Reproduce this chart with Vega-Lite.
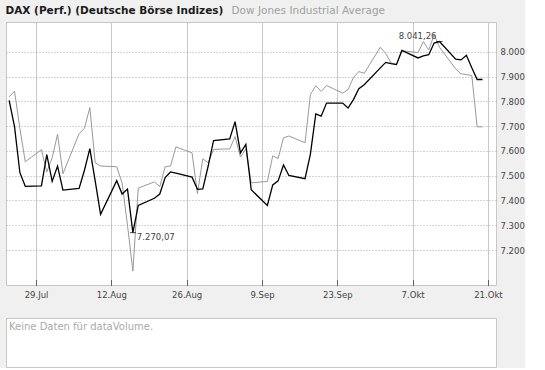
{
  "$schema": "https://vega.github.io/schema/vega-lite/v6.json",
  "background": "#f0f0f0",
  "padding": {"left": 5, "top": 6, "right": 0, "bottom": 0},
  "config": {
    "font": "DejaVu Sans",
    "view": {"stroke": "#c8c8c8", "fill": "#ffffff"},
    "axis": {"labelOverlap": false}
  },
  "spacing": 18,
  "vconcat": [
    {
      "width": 490,
      "height": 263,
      "data": {
        "values": [
          {"d": "2007-07-24", "dax": 7804, "dow": 7818},
          {"d": "2007-07-25", "dax": 7698, "dow": 7841},
          {"d": "2007-07-26", "dax": 7512, "dow": 7690},
          {"d": "2007-07-27", "dax": 7457, "dow": 7556},
          {"d": "2007-07-30", "dax": 7459, "dow": 7605},
          {"d": "2007-07-31", "dax": 7585, "dow": 7515},
          {"d": "2007-08-01", "dax": 7477, "dow": 7572},
          {"d": "2007-08-02", "dax": 7539, "dow": 7667},
          {"d": "2007-08-03", "dax": 7442, "dow": 7508},
          {"d": "2007-08-06", "dax": 7449, "dow": 7669},
          {"d": "2007-08-07", "dax": 7522, "dow": 7691},
          {"d": "2007-08-08", "dax": 7609, "dow": 7775},
          {"d": "2007-08-09", "dax": 7478, "dow": 7552},
          {"d": "2007-08-10", "dax": 7344, "dow": 7539},
          {"d": "2007-08-13", "dax": 7480, "dow": 7536},
          {"d": "2007-08-14", "dax": 7426, "dow": 7470},
          {"d": "2007-08-15", "dax": 7446, "dow": 7300},
          {"d": "2007-08-16", "dax": 7270.07, "dow": 7115},
          {"d": "2007-08-17", "dax": 7380, "dow": 7450},
          {"d": "2007-08-20", "dax": 7409, "dow": 7475},
          {"d": "2007-08-21", "dax": 7426, "dow": 7456},
          {"d": "2007-08-22", "dax": 7492, "dow": 7536},
          {"d": "2007-08-23", "dax": 7515, "dow": 7539},
          {"d": "2007-08-24", "dax": 7510, "dow": 7616},
          {"d": "2007-08-27", "dax": 7494, "dow": 7592},
          {"d": "2007-08-28", "dax": 7445, "dow": 7428},
          {"d": "2007-08-29", "dax": 7447, "dow": 7568},
          {"d": "2007-08-30", "dax": 7539, "dow": 7552},
          {"d": "2007-08-31", "dax": 7642, "dow": 7606},
          {"d": "2007-09-03", "dax": 7648, "dow": 7608},
          {"d": "2007-09-04", "dax": 7718, "dow": 7658},
          {"d": "2007-09-05", "dax": 7592, "dow": 7575},
          {"d": "2007-09-06", "dax": 7626, "dow": 7608},
          {"d": "2007-09-07", "dax": 7443, "dow": 7471},
          {"d": "2007-09-10", "dax": 7380, "dow": 7477},
          {"d": "2007-09-11", "dax": 7463, "dow": 7580},
          {"d": "2007-09-12", "dax": 7479, "dow": 7569},
          {"d": "2007-09-13", "dax": 7543, "dow": 7653},
          {"d": "2007-09-14", "dax": 7501, "dow": 7660},
          {"d": "2007-09-17", "dax": 7488, "dow": 7633},
          {"d": "2007-09-18", "dax": 7587, "dow": 7827},
          {"d": "2007-09-19", "dax": 7749, "dow": 7863},
          {"d": "2007-09-20", "dax": 7740, "dow": 7840},
          {"d": "2007-09-21", "dax": 7793, "dow": 7864},
          {"d": "2007-09-24", "dax": 7793, "dow": 7833},
          {"d": "2007-09-25", "dax": 7773, "dow": 7847},
          {"d": "2007-09-26", "dax": 7807, "dow": 7896},
          {"d": "2007-09-27", "dax": 7851, "dow": 7920},
          {"d": "2007-09-28", "dax": 7867, "dow": 7913},
          {"d": "2007-10-01", "dax": 7935, "dow": 8018},
          {"d": "2007-10-02", "dax": 7957, "dow": 7993},
          {"d": "2007-10-03", "dax": 7952, "dow": 7955},
          {"d": "2007-10-04", "dax": 7948, "dow": 7949},
          {"d": "2007-10-05", "dax": 8005, "dow": 8004},
          {"d": "2007-10-08", "dax": 7975, "dow": 7997},
          {"d": "2007-10-09", "dax": 7983, "dow": 8041},
          {"d": "2007-10-10", "dax": 7988, "dow": 8007},
          {"d": "2007-10-11", "dax": 8035, "dow": 8069},
          {"d": "2007-10-12", "dax": 8041.26, "dow": 8018},
          {"d": "2007-10-15", "dax": 7970, "dow": 7931},
          {"d": "2007-10-16", "dax": 7967, "dow": 7911},
          {"d": "2007-10-17", "dax": 7986, "dow": 7908},
          {"d": "2007-10-18", "dax": 7935, "dow": 7904},
          {"d": "2007-10-19", "dax": 7888, "dow": 7697},
          {"d": "2007-10-20", "dax": 7888, "dow": 7697}
        ]
      },
      "layer": [
        {
          "mark": {"type": "line", "strokeWidth": 1},
          "encoding": {
            "x": {
              "field": "d",
              "type": "temporal",
              "scale": {
                "type": "utc",
                "domain": [
                  {"year": 2007, "month": 7, "date": 23, "hours": 10, "utc": true},
                  {"year": 2007, "month": 10, "date": 22, "hours": 12, "utc": true}
                ]
              },
              "axis": {
                "title": null,
                "values": [
                  {"year": 2007, "month": 7, "date": 29, "utc": true},
                  {"year": 2007, "month": 8, "date": 12, "utc": true},
                  {"year": 2007, "month": 8, "date": 26, "utc": true},
                  {"year": 2007, "month": 9, "date": 9, "utc": true},
                  {"year": 2007, "month": 9, "date": 23, "utc": true},
                  {"year": 2007, "month": 10, "date": 7, "utc": true},
                  {"year": 2007, "month": 10, "date": 21, "utc": true}
                ],
                "tickCount": 30,
                "labelExpr": "utcdate(datum.value) + '.' + ['Jan','Feb','Mär','Apr','Mai','Jun','Jul','Aug','Sep','Okt','Nov','Dez'][utcmonth(datum.value)]",
                "grid": true,
                "gridColor": "#c8c8c8",
                "gridWidth": 1,
                "domain": false,
                "tickSize": -5,
                "tickColor": "#000000",
                "tickDash": [1, 1],
                "labelPadding": 10,
                "labelFontSize": 8.5,
                "labelColor": "#444444",
                "labelFlush": false,
                "labelOverlap": false
              }
            },
            "y": {
              "field": "dow",
              "type": "quantitative",
              "scale": {"domain": [7059, 8120], "nice": false, "zero": false},
              "axis": {
                "title": null,
                "orient": "right",
                "values": [7200, 7300, 7400, 7500, 7600, 7700, 7800, 7900, 8000],
                "tickCount": 30,
                "labelExpr": "replace(format(datum.value, ','), ',', '.')",
                "grid": true,
                "gridDash": [1, 2],
                "gridColor": "#a8a8a8",
                "ticks": false,
                "domain": false,
                "labelPadding": 4,
                "labelFontSize": 8.5,
                "labelColor": "#444444",
                "labelOverlap": false
              }
            },
            "color": {
              "datum": "Dow Jones Industrial Average",
              "scale": {
                "domain": ["DAX (Perf.) (Deutsche Börse Indizes)", "Dow Jones Industrial Average"],
                "range": ["#000000", "#999999"]
              },
              "legend": {
                "title": null,
                "orient": "top",
                "offset": 4,
                "direction": "horizontal",
                "symbolSize": 1,
                "symbolStrokeWidth": 0,
                "symbolOpacity": 0,
                "labelOffset": -11,
                "columnPadding": 7,
                "padding": 0,
                "labelFontSize": 10.5,
                "labelLimit": 400,
                "encode": {
                  "labels": {
                    "update": {
                      "fontWeight": {"signal": "datum.value === 'Dow Jones Industrial Average' ? 'normal' : 'bold'"},
                      "fill": {"signal": "datum.value === 'Dow Jones Industrial Average' ? '#a0a0a0' : '#1a1a1a'"}
                    }
                  }
                }
              }
            }
          }
        },
        {
          "mark": {"type": "line", "strokeWidth": 1.3},
          "encoding": {
            "x": {"field": "d", "type": "temporal"},
            "y": {"field": "dax", "type": "quantitative"},
            "color": {"datum": "DAX (Perf.) (Deutsche Börse Indizes)"}
          }
        },
        {
          "data": {
            "values": [
              {"d": "2007-08-16", "v": 7270.07},
              {"d": "2007-10-12", "v": 8041.26}
            ]
          },
          "mark": {"type": "tick", "orient": "horizontal", "color": "#000000", "size": 6, "thickness": 1},
          "encoding": {
            "x": {"field": "d", "type": "temporal"},
            "y": {"field": "v", "type": "quantitative"}
          }
        },
        {
          "data": {"values": [{"d": "2007-08-16", "v": 7270.07, "label": "7.270,07"}]},
          "mark": {"type": "text", "align": "left", "baseline": "top", "dx": 4, "dy": 0, "fontSize": 8.5, "color": "#444444"},
          "encoding": {
            "x": {"field": "d", "type": "temporal"},
            "y": {"field": "v", "type": "quantitative"},
            "text": {"field": "label"}
          }
        },
        {
          "data": {"values": [{"d": "2007-10-12", "v": 8041.26, "label": "8.041,26"}]},
          "mark": {"type": "text", "align": "right", "baseline": "alphabetic", "dx": -3, "dy": -3, "fontSize": 8.5, "color": "#444444"},
          "encoding": {
            "x": {"field": "d", "type": "temporal"},
            "y": {"field": "v", "type": "quantitative"},
            "text": {"field": "label"}
          }
        }
      ]
    },
    {
      "width": 490,
      "height": 49,
      "data": {"values": [{"msg": "Keine Daten für dataVolume."}]},
      "mark": {"type": "text", "align": "left", "baseline": "top", "dx": 3, "dy": 4, "color": "#aaaaaa", "fontSize": 10},
      "encoding": {
        "text": {"field": "msg"},
        "x": {"datum": 0, "type": "quantitative", "scale": {"domain": [0, 1]}, "axis": null},
        "y": {"datum": 1, "type": "quantitative", "scale": {"domain": [0, 1]}, "axis": null}
      }
    }
  ]
}
